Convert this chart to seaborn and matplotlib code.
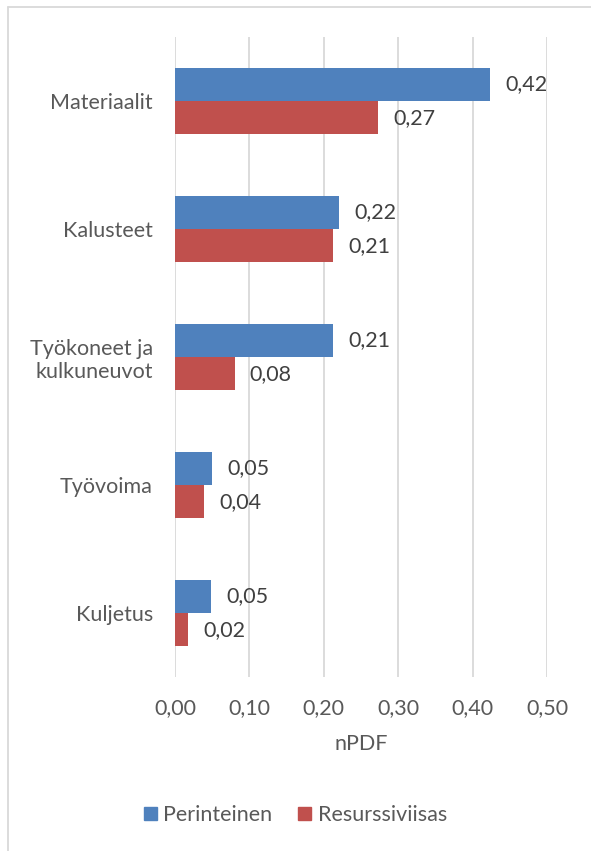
import numpy as np
import pandas as pd
import matplotlib
matplotlib.use('Agg')
import matplotlib.pyplot as plt
import seaborn as sns
from matplotlib.patches import Rectangle

categories = ['Materiaalit', 'Kalusteet', 'Työkoneet ja\nkulkuneuvot', 'Työvoima', 'Kuljetus']
perinteinen = [0.424, 0.220, 0.212, 0.050, 0.048]
resurssiviisas = [0.273, 0.213, 0.080, 0.039, 0.018]
series = ['Perinteinen', 'Resurssiviisas']
colors = ['#4F81BD', '#C0504D']
xticks = [0.0, 0.1, 0.2, 0.3, 0.4, 0.5]

df = pd.DataFrame({
    'kategoria': categories * 2,
    'sarja': [series[0]] * 5 + [series[1]] * 5,
    'nPDF': perinteinen + resurssiviisas,
})

sns.set_theme(style='white')
plt.rcParams['font.family'] = ['Lato', 'DejaVu Sans']
text_col = '#595959'
fs = 15.5

fig = plt.figure(figsize=(5.91, 8.51), dpi=100)
ax = fig.add_axes([175 / 591, 1 - 677 / 851, 372 / 591, (677 - 37) / 851])

sns.barplot(data=df, y='kategoria', x='nPDF', hue='sarja', orient='h',
            palette=colors, width=0.52, ax=ax, saturation=1, legend=False,
            linewidth=0)

ax.set_xlim(0, 0.5)
ax.set_ylim(4.5, -0.5)
ax.set_xticks(xticks)
ax.set_xticklabels([f'{v:.2f}'.replace('.', ',') for v in xticks])
ax.xaxis.grid(True, color='#D9D9D9', linewidth=1.3)
ax.set_axisbelow(True)
for s in ax.spines.values():
    s.set_visible(False)
ax.tick_params(axis='both', length=0, labelsize=fs, labelcolor=text_col)
ax.tick_params(axis='x', pad=15)
ax.tick_params(axis='y', pad=16)
ax.set_ylabel('')
ax.set_xlabel('nPDF', fontsize=fs, color=text_col, labelpad=12)

for cont in ax.containers:
    labels = [f'{v:.2f}'.replace('.', ',') for v in cont.datavalues]
    ax.bar_label(cont, labels=labels, padding=11, fontsize=fs, color='#404040')

handles = [Rectangle((0, 0), 1, 1, color=c) for c in colors]
fig.legend(handles, series, loc='center', bbox_to_anchor=(0.5, 1 - 815 / 851),
           ncol=2, frameon=False, fontsize=fs, labelcolor=text_col,
           handlelength=0.6, handleheight=0.6, handletextpad=0.3, columnspacing=1.2)

fig.add_artist(plt.Line2D([8 / 591, 8 / 591], [0, 1 - 7 / 851], transform=fig.transFigure,
                          color='#D9D9D9', linewidth=1.3))
fig.add_artist(plt.Line2D([8 / 591, 1], [1 - 7 / 851, 1 - 7 / 851], transform=fig.transFigure,
                          color='#D9D9D9', linewidth=1.3))

fig.savefig('out.png', dpi=100)
